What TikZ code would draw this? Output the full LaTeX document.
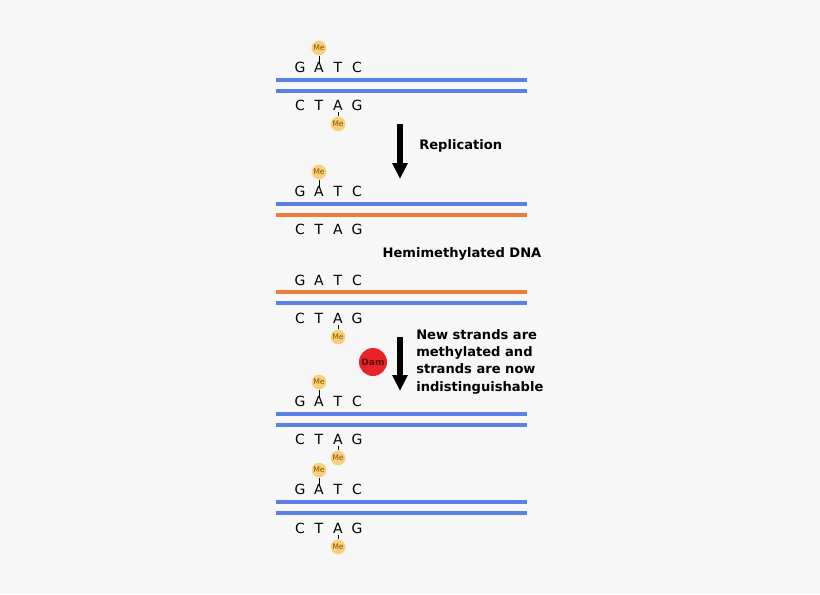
\documentclass[tikz,border=0pt]{standalone}
\usepackage{fontspec}
\setmainfont{DejaVu Sans}
\usetikzlibrary{arrows.meta}
\definecolor{bg}{HTML}{F7F7F7}
\definecolor{dnablue}{HTML}{5A7FE6}
\definecolor{dnaorange}{HTML}{EE7D3C}
\definecolor{mefill}{HTML}{F9D07A}
\definecolor{metext}{HTML}{8A5200}
\definecolor{damred}{HTML}{E8242A}
\definecolor{damtext}{HTML}{6A0A0A}
\tikzset{
  base/.style={inner sep=0pt, font=\fontsize{10.5pt}{12pt}\selectfont},
  me/.style={circle, fill=mefill, minimum size=11pt, inner sep=0pt, text=metext, font=\fontsize{5.8pt}{6pt}\selectfont},
  tick/.style={line width=0.6pt, black},
  bluestrand/.style={line width=3.6pt, dnablue},
  orangestrand/.style={line width=3.6pt, dnaorange},
  bigarrow/.style={line width=3.8pt, -{Triangle[length=12pt,width=11pt]}},
  label/.style={font=\bfseries\fontsize{9.8pt}{13pt}\selectfont, inner sep=0pt},
}
\begin{document}
\begin{tikzpicture}[x=0.75pt,y=-0.75pt]
\fill[bg] (0,0) rectangle (820,594);
\useasboundingbox (0,0) rectangle (820,594);
\foreach \g/\yt/\yb/\la/\lb/\sa/\sb/\mt/\mb in {
  1/67/105/80/91/bluestrand/bluestrand/1/1,
  2/191/229/204/215/bluestrand/orangestrand/1/0,
  3/280/318/292/303/orangestrand/bluestrand/0/1,
  4/401/439/414/425/bluestrand/bluestrand/1/1,
  5/489/528/502/513/bluestrand/bluestrand/1/1}{
  \node[base] (t\g1) at (300,\yt) {G};
  \node[base] (t\g2) at (319,\yt) {A};
  \node[base] (t\g3) at (338,\yt) {T};
  \node[base] (t\g4) at (357,\yt) {C};
  \node[base] (b\g1) at (300,\yb) {C};
  \node[base] (b\g2) at (319,\yb) {T};
  \node[base] (b\g3) at (338,\yb) {A};
  \node[base] (b\g4) at (357,\yb) {G};
  \coordinate (sa\g l) at (276,\la); \coordinate (sa\g r) at (527,\la);
  \coordinate (sb\g l) at (276,\lb); \coordinate (sb\g r) at (527,\lb);
  \draw[\sa] (sa\g l) -- (sa\g r);
  \draw[\sb] (sb\g l) -- (sb\g r);
  \ifnum\mt=1
    \node[me] (mt\g) at (319,\yt-19) {Me};
    \draw[tick] (mt\g.south) -- ([yshift=-1pt]t\g2.north);
  \fi
  \ifnum\mb=1
    \node[me] (mb\g) at (338,\yb+19) {Me};
    \draw[tick] (mb\g.north) -- ([yshift=-1pt]b\g3.south);
  \fi
}
\coordinate (a1s) at (400,124); \coordinate (a1e) at (400,179);
\draw[bigarrow] (a1s) -- (a1e);
\node[label, anchor=west] (rep) at (419,146) {Replication};
\node[label] (hemi) at (462,254) {Hemimethylated DNA};
\coordinate (a2s) at (400,337); \coordinate (a2e) at (400,391);
\draw[bigarrow] (a2s) -- (a2e);
\node[circle, fill=damred, minimum size=21pt, inner sep=0pt, text=damtext, font=\bfseries\fontsize{6.8pt}{7pt}\selectfont] (dam) at (373,362) {Dam};
\node[label, anchor=north west, align=left] (newtxt) at (416,329) {New strands are\\methylated and\\strands are now\\indistinguishable};
\end{tikzpicture}
\end{document}
